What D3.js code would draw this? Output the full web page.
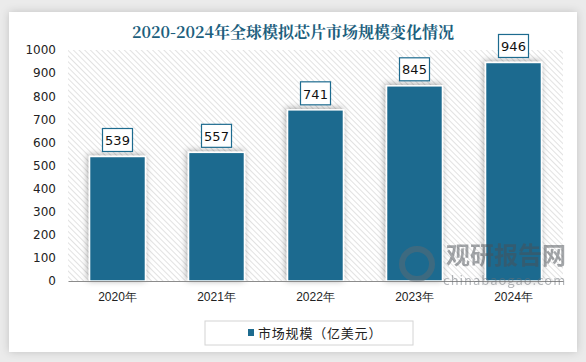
<!DOCTYPE html>
<html>
<head>
<meta charset="utf-8">
<script src="https://cdn.jsdelivr.net/npm/d3@7"></script>
<style>
  html, body { margin: 0; padding: 0; background: #ebebeb; }
  svg { display: block; }
</style>
</head>
<body>
<script>
const years = ['2020年', '2021年', '2022年', '2023年', '2024年'];
const marketSize = [539, 557, 741, 845, 946];
const yTicks = [0, 100, 200, 300, 400, 500, 600, 700, 800, 900, 1000];
const title = '2020-2024年全球模拟芯片市场规模变化情况';
const legendLabel = '市场规模（亿美元）';

const width = 586;
const height = 362;
const barColor = '#1d6b8f';
const font = '"Microsoft YaHei", "Noto Sans CJK SC", "DejaVu Sans", sans-serif';

const svg = d3.select('body')
  .append('svg')
  .attr('width', width)
  .attr('height', height)
  .style('font-family', font);

const defs = svg.append('defs');

const hatch = defs.append('pattern')
  .attr('id', 'hatch')
  .attr('patternUnits', 'userSpaceOnUse')
  .attr('width', 4)
  .attr('height', 4)
  .attr('patternTransform', 'rotate(-45)');
hatch.append('rect').attr('width', 4).attr('height', 4).attr('fill', '#fff');
hatch.append('line')
  .attr('x1', 0).attr('y1', 0).attr('x2', 0).attr('y2', 4)
  .attr('stroke', '#d9d9d9').attr('stroke-width', 1.5);

const cardShadow = defs.append('filter').attr('id', 'cardShadow')
  .attr('x', '-5%').attr('y', '-5%').attr('width', '110%').attr('height', '110%');
cardShadow.append('feDropShadow')
  .attr('dx', 0).attr('dy', 0).attr('stdDeviation', 4)
  .attr('flood-color', '#000').attr('flood-opacity', 0.18);

const barShadow = defs.append('filter').attr('id', 'barShadow')
  .attr('x', '-30%').attr('y', '-10%').attr('width', '160%').attr('height', '120%');
barShadow.append('feDropShadow')
  .attr('dx', -1).attr('dy', -1).attr('stdDeviation', 3)
  .attr('flood-color', '#000').attr('flood-opacity', 0.35);

// card
svg.append('rect')
  .attr('x', 9).attr('y', 12)
  .attr('width', 568).attr('height', 340)
  .attr('fill', '#fff')
  .attr('filter', 'url(#cardShadow)');

svg.append('text')
  .attr('x', 293).attr('y', 38)
  .attr('text-anchor', 'middle')
  .attr('font-size', 16)
  .attr('font-weight', 'bold')
  .attr('font-family', '"Noto Serif CJK SC", "Noto Sans CJK SC", serif')
  .attr('fill', '#1d5f7e')
  .text(title);

const margin = { left: 68, right: 23, top: 50, bottom: 81 };

const x = d3.scaleBand()
  .domain(years)
  .range([margin.left, width - margin.right])
  .paddingInner(0.435)
  .paddingOuter(0.2175);

const y = d3.scaleLinear()
  .domain([0, 1000])
  .range([height - margin.bottom, margin.top]);

// hatched plot background
svg.append('rect')
  .attr('x', margin.left)
  .attr('y', y(1000))
  .attr('width', width - margin.right - margin.left)
  .attr('height', y(0) - y(1000))
  .attr('fill', 'url(#hatch)');

// y axis
const yAxis = d3.axisLeft(y).tickValues(yTicks).tickFormat(d3.format('d'))
  .tickSize(0).tickPadding(12);
svg.append('g')
  .attr('transform', `translate(${margin.left},0)`)
  .call(yAxis)
  .call(g => g.select('.domain').remove())
  .call(g => g.selectAll('text').attr('font-size', 12).attr('fill', '#222')
    .attr('font-family', '"DejaVu Sans", sans-serif'));

// bars
svg.append('g')
  .selectAll('rect')
  .data(marketSize)
  .join('rect')
  .attr('x', (d, i) => x(years[i]))
  .attr('y', d => y(d))
  .attr('width', x.bandwidth())
  .attr('height', d => y(0) - y(d))
  .attr('fill', barColor)
  .attr('stroke', '#fff')
  .attr('stroke-width', 1.5)
  .attr('filter', 'url(#barShadow)');

// x axis
const xAxis = d3.axisBottom(x).tickSize(0).tickPadding(11);
svg.append('g')
  .attr('transform', `translate(0,${y(0)})`)
  .call(xAxis)
  .call(g => g.select('.domain').attr('stroke', '#8c8c8c').attr('stroke-width', 1.2))
  .call(g => g.selectAll('text').attr('font-size', 12).attr('fill', '#222'));

// watermark (over the bars)
const wm = svg.append('g').attr('opacity', 0.5);
wm.append('circle').attr('cx', 417).attr('cy', 264).attr('r', 15)
  .attr('fill', 'none').attr('stroke', '#5f6a72').attr('stroke-width', 6);
wm.append('text').attr('x', 446).attr('y', 264)
  .attr('font-size', 24).attr('font-weight', 'bold').attr('fill', '#4a4f55')
  .text('观研报告网');
wm.append('text').attr('x', 443).attr('y', 285)
  .attr('font-size', 13).attr('fill', '#6a7077').attr('letter-spacing', 1)
  .text('chinabaogao.com');

// value labels
const labels = svg.append('g')
  .selectAll('g')
  .data(marketSize)
  .join('g')
  .attr('transform', (d, i) => `translate(${x(years[i]) + x.bandwidth() / 2},${y(d) - 16})`);
labels.append('rect')
  .attr('x', -15).attr('y', -12)
  .attr('width', 30).attr('height', 23)
  .attr('fill', '#fff')
  .attr('stroke', barColor)
  .attr('stroke-width', 1.2);
labels.append('text')
  .attr('text-anchor', 'middle')
  .attr('dy', '0.36em')
  .attr('font-size', 13)
  .attr('font-family', '"DejaVu Sans", sans-serif')
  .attr('fill', '#111')
  .text(d => d);

// legend
const legend = svg.append('g');
legend.append('rect')
  .attr('x', 205).attr('y', 321)
  .attr('width', 208).attr('height', 24)
  .attr('fill', '#fff')
  .attr('stroke', '#d4d4d4');
legend.append('rect')
  .attr('x', 248).attr('y', 329)
  .attr('width', 6).attr('height', 7)
  .attr('fill', barColor);
legend.append('text')
  .attr('x', 258).attr('y', 337.5)
  .attr('font-size', 13)
  .attr('letter-spacing', 0.8)
  .attr('fill', '#222')
  .text(legendLabel);
</script>
</body>
</html>
